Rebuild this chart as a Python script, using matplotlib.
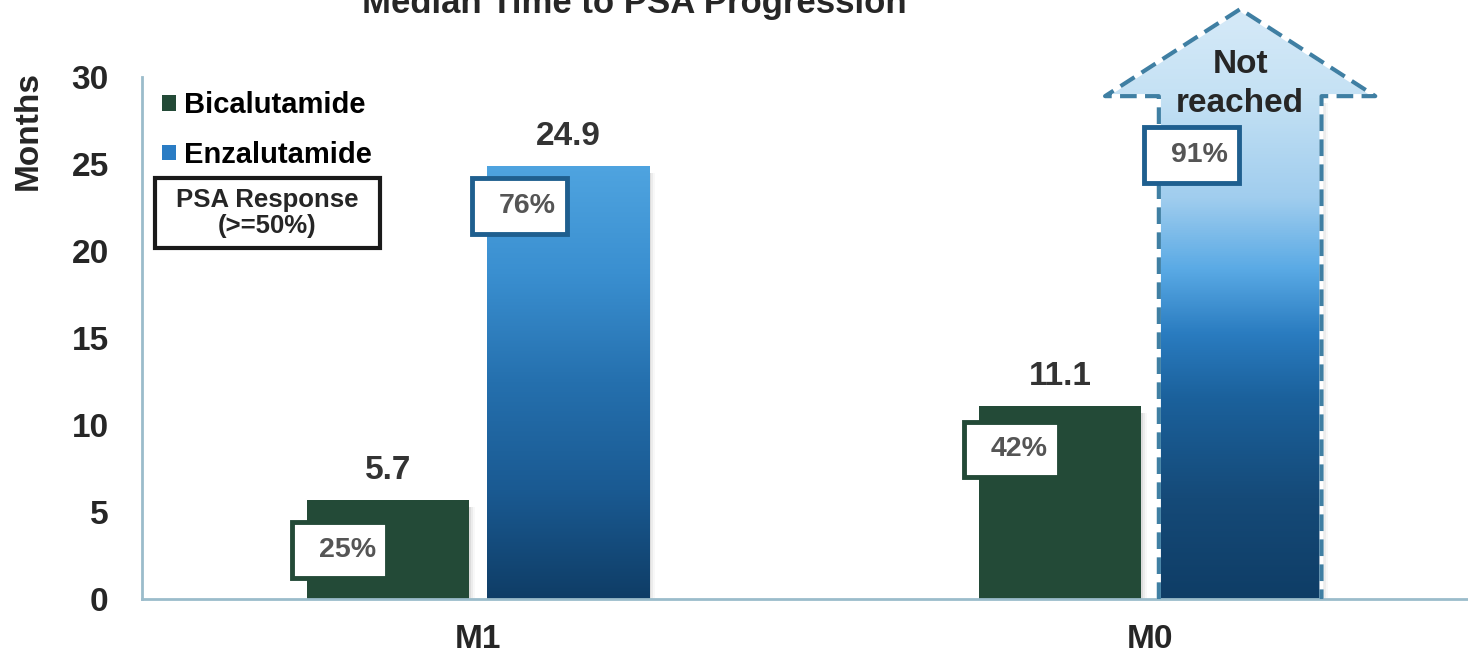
import numpy as np
import matplotlib
matplotlib.use("Agg")
from matplotlib import pyplot as plt
from matplotlib.colors import LinearSegmentedColormap
from matplotlib.patches import Rectangle, Polygon, Patch

plt.rcParams['font.family'] = ['Liberation Sans', 'DejaVu Sans']
plt.rcParams['font.weight'] = 'bold'

# median time to PSA progression (months); None = not reached
groups = ["M1", "M0"]
bicalutamide = [5.7, 11.1]
enzalutamide = [24.9, None]
# PSA response (>=50%)
psa_bica = ["25%", "42%"]
psa_enza = ["76%", "91%"]

GREEN = "#234a37"
BLUE_EDGE = "#1f5f8f"
TEXT = "#262626"
GREY_TEXT = "#555555"

bar_w = 0.242
offset = 0.134
y_top = 34.2   # headroom for the "not reached" arrow; scale stops at 30

fig = plt.figure(figsize=(14.68, 6.59), dpi=100)
ax = fig.add_axes([142 / 1468, 60 / 659, 1 - 142 / 1468, 522 / 659 * y_top / 30])
ax.set_xlim(-0.5, 1.473)
ax.set_ylim(0, y_top)

blue_bar = LinearSegmentedColormap.from_list(
    "blue_bar", ["#0f3d66", "#1a5a92", "#2570ae", "#3a8fd0", "#4fa4e0"])
blue_arrow = LinearSegmentedColormap.from_list(
    "blue_arrow", [(0, "#0f3d66"), (0.17, "#154a78"), (0.34, "#1b619c"),
                   (0.45, "#2a7cc0"), (0.56, "#5aaae5"), (0.68, "#a0cdee"),
                   (0.85, "#c4e1f4"), (1.0, "#d6eaf8")])


def gradient_fill(ax, patch, x0, x1, y0, y1, cmap):
    grad = np.linspace(0, 1, 256).reshape(-1, 1)
    im = ax.imshow(grad, cmap=cmap, origin="lower", aspect="auto",
                   extent=(x0, x1, y0, y1), zorder=2)
    ax.add_patch(patch)
    im.set_clip_path(patch)


def shadow(ax, x0, h):
    for k, a in enumerate([0.10, 0.07, 0.04]):
        ax.add_patch(Rectangle((x0 + 0.003 + k * 0.003, 0), bar_w, h - 0.4,
                               color="#555555", alpha=a, lw=0, zorder=1.5))


x = np.arange(len(groups))

# Bicalutamide bars
for xi, v in zip(x, bicalutamide):
    shadow(ax, xi - offset - bar_w / 2, v)
bica_bars = ax.bar(x - offset, bicalutamide, width=bar_w, color=GREEN, zorder=2)
for rect, v in zip(bica_bars, bicalutamide):
    ax.annotate(f"{v}", (rect.get_x() + bar_w / 2, v), xytext=(0, 10),
                textcoords="offset points", ha="center", va="bottom",
                fontsize=24, color="#333333")

# Enzalutamide bars (gradient), the M0 one drawn as an open-ended arrow
for xi, v in zip(x, enzalutamide):
    left = xi + offset - bar_w / 2
    right = left + bar_w
    if v is not None:
        shadow(ax, left, v)
        rect = Rectangle((left, 0), bar_w, v, facecolor="none", edgecolor="none")
        gradient_fill(ax, rect, left, right, 0, v, blue_bar)
        ax.annotate(f"{v}", (xi + offset, v), xytext=(0, 10),
                    textcoords="offset points", ha="center", va="bottom",
                    fontsize=24, color="#333333")
    else:
        shoulder, apex, flare = 28.9, 33.9, 0.08
        pts = [(left, 0), (left, shoulder), (left - flare, shoulder),
               (xi + offset, apex), (right + flare, shoulder),
               (right, shoulder), (right, 0)]
        shadow(ax, left, shoulder)
        poly = Polygon(pts, closed=True, facecolor="none", edgecolor="none")
        gradient_fill(ax, poly, left - flare, right + flare, 0, apex, blue_arrow)
        xs, ys = zip(*pts)
        ax.plot(xs, ys, color="white", lw=3, zorder=3)
        ax.plot(xs, ys, color="#3f7fa3", lw=3, ls=(0, (4, 2)), zorder=3.1)
        ax.text(xi + offset, 29.6, "Not\nreached", ha="center", va="center",
                fontsize=24, color=TEXT, linespacing=1.3, zorder=4)

# PSA response boxes
box_w, box_h = 0.141, 3.2
box_y = {"25%": 2.8, "42%": 8.6, "76%": 22.6, "91%": 25.5}
for xs_, labels, edge in [(x - offset, psa_bica, GREEN), (x + offset, psa_enza, BLUE_EDGE)]:
    for xc, lab in zip(xs_, labels):
        bx = xc - bar_w / 2 - 0.022
        by = box_y[lab]
        ax.add_patch(Rectangle((bx, by - box_h / 2), box_w, box_h, facecolor="white",
                               edgecolor=edge, lw=3.5, zorder=5))
        ax.text(bx + box_w / 2 + 0.012, by, lab, ha="center", va="center",
                fontsize=20.5, color=GREY_TEXT, zorder=6)

# legend and PSA response key
handles = [Patch(facecolor=GREEN, label="Bicalutamide"),
           Patch(facecolor="#2a7cc4", label="Enzalutamide")]
ax.legend(handles=handles, loc="upper left", bbox_to_anchor=(-0.5, 30.36),
          bbox_transform=ax.transData,
          frameon=False, fontsize=21, handlelength=0.45, handleheight=0.45,
          handletextpad=0.3, labelspacing=0.75, borderaxespad=0.3)
ax.add_patch(Rectangle((-0.481, 20.2), 0.335, 4.0, facecolor="white",
                       edgecolor="#1a1a1a", lw=3, zorder=5))
ax.text(-0.3135, 22.2, "PSA Response\n(>=50%)", ha="center", va="center",
        fontsize=18.5, color=TEXT, linespacing=1.1, zorder=6)

# axes styling
ax.set_yticks(range(0, 31, 5))
ax.set_xticks(x)
ax.set_xticklabels(groups)
ax.tick_params(axis="y", length=0, pad=24, labelsize=24, labelcolor=TEXT)
ax.tick_params(axis="x", length=0, pad=18, labelsize=24, labelcolor=TEXT)
for side in ["top", "right"]:
    ax.spines[side].set_visible(False)
for side in ["left", "bottom"]:
    ax.spines[side].set_color("#9bbccb")
    ax.spines[side].set_linewidth(2)
ax.spines["left"].set_bounds(0, 30)

fig.text(28 / 1468, 1 - 130 / 659, "Months", rotation=90, ha="center",
         va="center", fontsize=24, color=TEXT)
fig.text(634 / 1468, 1 - 13 / 659, "Median Time to PSA Progression", ha="center",
         va="baseline", fontsize=25, color=TEXT)

fig.savefig("out.png", dpi=100)
